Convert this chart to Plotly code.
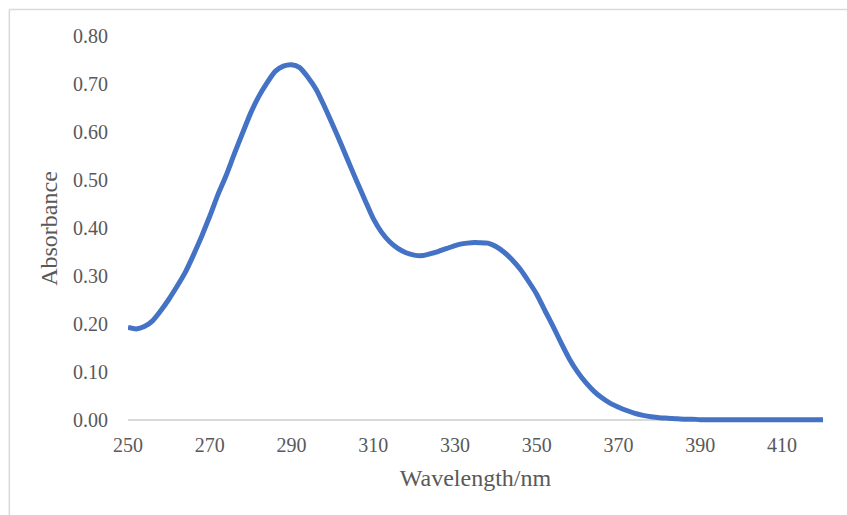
import plotly.graph_objects as go

wavelength = [250, 252, 254, 256, 258, 260, 262, 264, 266, 268,
              270, 272, 274, 276, 278, 280, 282, 284, 286, 288,
              290, 292, 294, 296, 298, 300, 302, 304, 306, 308,
              310, 312, 314, 316, 318, 320, 322, 324, 326, 328,
              330, 332, 334, 336, 338, 340, 342, 344, 346, 348,
              350, 352, 354, 356, 358, 360, 362, 364, 366, 368,
              370, 372, 374, 376, 378, 380, 382, 384, 386, 388,
              390, 395, 400, 405, 410, 415, 420]
absorbance = [0.193, 0.190, 0.195, 0.207, 0.228, 0.252, 0.279, 0.308, 0.344, 0.383,
              0.425, 0.470, 0.510, 0.555, 0.598, 0.640, 0.675, 0.703, 0.727, 0.738,
              0.741, 0.735, 0.715, 0.690, 0.655, 0.617, 0.578, 0.537, 0.497, 0.458,
              0.420, 0.392, 0.372, 0.358, 0.349, 0.344, 0.343, 0.347, 0.352, 0.358,
              0.364, 0.368, 0.370, 0.370, 0.369, 0.362, 0.350, 0.334, 0.314, 0.289,
              0.262, 0.228, 0.195, 0.160, 0.127, 0.100, 0.078, 0.060, 0.046, 0.035,
              0.027, 0.020, 0.014, 0.010, 0.007, 0.005, 0.004, 0.003, 0.002, 0.002,
              0.001, 0.001, 0.001, 0.001, 0.001, 0.001, 0.001]

x_ticks = [250, 270, 290, 310, 330, 350, 370, 390, 410]
y_ticks = [0.0, 0.1, 0.2, 0.3, 0.4, 0.5, 0.6, 0.7, 0.8]
y_tick_labels = ["0.00", "0.10", "0.20", "0.30", "0.40", "0.50", "0.60", "0.70", "0.80"]

W, H = 847, 515
px_left, px_right = 127.5, 823
px_zero, px_top = 420.5, 36.5
y_lo, y_hi = -0.006, 0.805
ppu = (px_zero - px_top) / 0.8
m_t = px_top - (y_hi - 0.8) * ppu
m_b = H - (px_zero - y_lo * ppu)
m_l = px_left
m_r = W - px_right

fig = go.Figure()
fig.add_trace(go.Scatter(x=wavelength, y=absorbance, mode="lines",
                         line=dict(color="#4472C4", width=5, shape="spline", smoothing=0.6),
                         showlegend=False, hoverinfo="skip"))

font_fam = "Liberation Serif, Times New Roman, serif"
fig.update_layout(
    width=W, height=H,
    margin=dict(l=m_l, r=m_r, t=m_t, b=m_b, pad=0),
    paper_bgcolor="white", plot_bgcolor="white",
    font=dict(family=font_fam, color="#595959", size=20),
    xaxis=dict(range=[250, 420], tickvals=x_ticks, showgrid=False, zeroline=False,
               showline=False, ticks="", tickfont=dict(size=20, color="#595959"),
               ticklabelstandoff=8,
               title=dict(text="Wavelength/nm", font=dict(size=24, color="#595959"), standoff=14)),
    yaxis=dict(range=[y_lo, y_hi], tickvals=y_ticks, ticktext=y_tick_labels,
               showgrid=False, zeroline=True, zerolinecolor="#D9D9D9", zerolinewidth=1.5,
               showline=False, ticks="", tickfont=dict(size=20, color="#595959"),
               ticklabelstandoff=19,
               title=dict(text="Absorbance", font=dict(size=24, color="#595959"), standoff=8)),
)

# outer chart border (light gray): top and left edges only
pw = W - m_l - m_r
ph = H - m_t - m_b
bx0 = (8.75 - m_l) / pw
by1 = (H - m_b - 9.5) / ph
border = dict(color="#D9D9D9", width=1.5)
fig.add_shape(type="line", xref="paper", yref="paper",
              x0=bx0, x1=(W + 20 - m_l) / pw, y0=by1, y1=by1, line=border, layer="below")
fig.add_shape(type="line", xref="paper", yref="paper",
              x0=bx0, x1=bx0, y0=-(m_b + 20) / ph, y1=by1, line=border, layer="below")

fig.write_html(
    "out.html",
    config={"displayModeBar": False, "staticPlot": True},
    post_script=("document.body.style.margin='0';"
                 "document.body.style.overflow='hidden';"
                 "document.documentElement.style.overflow='hidden';"),
)
